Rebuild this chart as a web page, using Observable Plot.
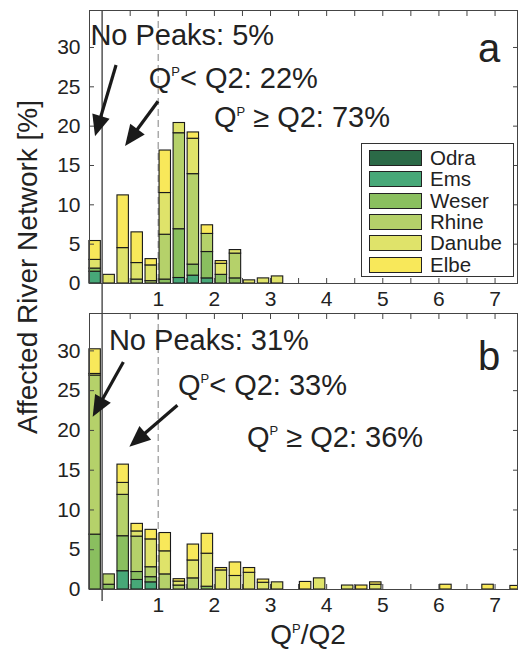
<!DOCTYPE html>
<html>
<head>
<meta charset="utf-8">
<script src="https://cdn.jsdelivr.net/npm/d3@7"></script>
<script src="https://cdn.jsdelivr.net/npm/@observablehq/plot@0.6"></script>
<style>
  body { margin: 0; background: #fff; }
  #chart { position: relative; width: 518px; height: 654px; overflow: hidden;
           font-family: "Liberation Sans", Arial, Helvetica, sans-serif; color: #222; }
  #chart svg { position: absolute; left: 0; overflow: visible; }
  .ylab { position: absolute; white-space: nowrap; font-size: 28px; line-height: 1;
          transform: translate(-50%, -50%) rotate(-90deg); }
  .legend { position: absolute; background: #fff; border: 1px solid #333; box-sizing: border-box; }
  .legend .sw { position: absolute; box-sizing: border-box; border: 1px solid #222; }
  .legend .lb { position: absolute; font-size: 20.5px; line-height: 20px; height: 20px; white-space: nowrap; }
</style>
</head>
<body>
<div id="chart"></div>
<script>
// ---------- data ----------
const rivers = ["Odra", "Ems", "Weser", "Rhine", "Danube", "Elbe"];
const colors = ["#2b6a47", "#47a878", "#8abf5f", "#b5d16a", "#dfe36a", "#f8e85a"];
const binWidth = 0.25;

// panel a (bin left edges, % of river network per river)
const binsA   = [-0.25, 0, 0.25, 0.5, 0.75, 1.0, 1.25, 1.5, 1.75, 2.0, 2.25, 2.5, 2.75, 3.0];
const odraA   = [0,   0,   0,   0,   0,   0,   0,    0,    0,    0,    0,    0,   0,    0];
const emsA    = [1.5, 0,   0,   0,   0,   0,   0.7,  1.0,  0.65, 0,    0,    0,   0,    0];
const weserA  = [0.4, 0,   0,   0,   0,   0.5, 6.2,  1.4,  3.35, 1.1,  0.65, 0,   0,    0];
const rhineA  = [0,   0,   0,   0.5, 0.3, 5.7, 12.2, 11.5, 2.3,  0,    3.15, 0,   0,    0];
const danubeA = [1.1, 1.1, 4.5, 2.1, 2.0, 5.3, 1.3,  4.5,  0,    1.4,  0.45, 0.4, 0.65, 0.9];
const elbeA   = [2.4, 0,   6.7, 3.9, 0.8, 5.4, 0,    0.8,  1.1,  0.35, 0,    0,   0,    0];

// panel b
const binsB   = [-0.25, 0, 0.25, 0.5, 0.75, 1.0, 1.25, 1.5, 1.75, 2.0, 2.25, 2.5, 2.75, 3.0, 3.5, 3.75, 4.25, 4.5, 4.75, 6.0, 6.75, 7.25];
const odraB   = [0,    0,   0,   0,    0,    0,   0,   0,    0,    0,   0,   0,   0,    0,   0,    0,   0,   0,   0,   0,   0,   0];
const emsB    = [0,    0,   2.3, 1.2,  0.9,  0,   0,   0,    0,    0,   0,   0,   0,    0,   0,    0,   0,   0,   0,   0,   0,   0];
const weserB  = [6.9,  0.6, 4.4, 1.0,  0.65, 0,   0,   0,    0.35, 0,   0,   0,   0,    0,   0,    0,   0,   0,   0,   0,   0,   0];
const rhineB  = [20.0, 1.3, 5.2, 4.45, 1.25, 1.9, 0.5, 1.4,  0,    0,   0,   0,   0,    0,   0,    0,   0,   0,   0,   0,   0,   0];
const danubeB = [0.2,  0,   1.5, 0.65, 3.5,  2.9, 0.5, 2.25, 4.15, 2.4, 1.7, 2.1, 0.85, 0.9, 0,    1.4, 0.5, 0,   0.6, 0,   0,   0];
const elbeB   = [3.1,  0,   2.3, 0.95, 1.2,  2.3, 0.3, 2.0,  2.5,  0.3, 1.7, 0.6, 0.4,  0,   0.95, 0,   0,   0.5, 0.3, 0.6, 0.6, 0.45];

// axes
const xDomain = [-0.225, 7.4];
const yDomain = [0, 34.7];
const xLabelTicks = [1, 2, 3, 4, 5, 6, 7];
const xMinorTicks = [0.5, 1, 1.5, 2, 2.5, 3, 3.5, 4, 4.5, 5, 5.5, 6, 6.5, 7];
const yTicks = [0, 5, 10, 15, 20, 25, 30];
const yLabel = "Affected River Network [%]";

// annotations (data units)
const notesA = [
  {text: "No Peaks: 5%", x: -0.2, y: 30.3},
  {text: "Q^P< Q2: 22%", x: 0.84, y: 24.8},
  {text: "Q^P \u2265 Q2: 73%", x: 2.0, y: 19.8}
];
const notesB = [
  {text: "No Peaks: 31%", x: 0.13, y: 30.0},
  {text: "Q^P< Q2: 33%", x: 1.36, y: 24.4},
  {text: "Q^P \u2265 Q2: 36%", x: 2.59, y: 17.9}
];
const tagA = {text: "a", x: 7.1, y: 28.1};
const tagB = {text: "b", x: 7.1, y: 27.5};
const arrowsA = [
  {x1: 0.257, y1: 27.7, x2: -0.118, y2: 18.65},
  {x1: 1.005, y1: 23.1, x2: 0.417, y2: 17.4}
];
const arrowsB = [
  {x1: 0.387, y1: 28.55, x2: -0.159, y2: 21.65},
  {x1: 1.35, y1: 23.1, x2: 0.494, y2: 17.9}
];

// ---------- helpers ----------
function stackRows(bins, series) {
  const rows = [];
  bins.forEach((b, i) => rivers.forEach((r, j) => {
    const v = series[j][i];
    if (v > 0) rows.push({x1: b, x2: b + binWidth, river: r, value: v});
  }));
  return rows;
}

function writeText(g, x, y, text, size, anchor = "start") {
  const t = g.append("text").attr("x", x).attr("y", y).attr("font-size", size)
    .attr("fill", "#222").attr("text-anchor", anchor);
  const parts = text.split("^P");
  if (parts.length === 1) { t.text(text); return t; }
  const sup = Math.round(size * 0.46);
  const shift = (size - sup) * 0.72;
  t.append("tspan").text(parts[0]);
  t.append("tspan").attr("font-size", sup).attr("dy", -shift).text("P");
  t.append("tspan").attr("dy", shift).text(parts[1]);
  return t;
}

function notesMark(notes, tag) {
  return (index, scales) => {
    const g = d3.create("svg:g");
    for (const n of notes) writeText(g, scales.x(n.x), scales.y(n.y), n.text, 29);
    writeText(g, scales.x(tag.x), scales.y(tag.y), tag.text, 40, "end");
    return g.node();
  };
}

function arrowsMark(arrows) {
  return (index, scales) => {
    const g = d3.create("svg:g");
    const L = 21, W = 9;
    for (const a of arrows) {
      const x1 = scales.x(a.x1), y1 = scales.y(a.y1), x2 = scales.x(a.x2), y2 = scales.y(a.y2);
      const len = Math.hypot(x2 - x1, y2 - y1), ux = (x2 - x1) / len, uy = (y2 - y1) / len;
      const bx = x2 - ux * L, by = y2 - uy * L;
      g.append("line").attr("x1", x1).attr("y1", y1).attr("x2", bx + ux * 2).attr("y2", by + uy * 2)
        .attr("stroke", "#1a1a1a").attr("stroke-width", 3.2);
      g.append("path").attr("fill", "#1a1a1a")
        .attr("d", `M${x2},${y2}L${bx - uy * W},${by + ux * W}L${bx + uy * W},${by - ux * W}Z`);
    }
    return g.node();
  };
}

function xTitleMark(text) {
  return (index, scales, values, dims) => {
    const g = d3.create("svg:g");
    const cx = (dims.marginLeft + dims.width - dims.marginRight) / 2 + 5;
    writeText(g, cx, dims.height - 10, text, 28, "middle");
    return g.node();
  };
}

function panel({rows, notes, tag, arrows, height, marginTop, marginBottom, extTop, extBottom, extra = []}) {
  return Plot.plot({
    width: 518, height, marginLeft: 89, marginRight: 1, marginTop, marginBottom,
    x: {domain: xDomain, axis: null},
    y: {domain: yDomain, axis: null},
    color: {domain: rivers, range: colors},
    style: {fontFamily: '"Liberation Sans", Arial, sans-serif', color: "#222", background: "transparent", overflow: "visible"},
    marks: [
      Plot.ruleX([1], {stroke: "#aaa", strokeWidth: 1.5, strokeDasharray: "7,4"}),
      Plot.rectY(rows, Plot.stackY({
        x1: "x1", x2: "x2", y: "value", z: "river", fill: "river", order: rivers,
        stroke: "#1a1a1a", strokeWidth: 1.1, insetLeft: 1.3, insetRight: 1.3
      })),
      Plot.ruleX([0], {stroke: "#555", strokeWidth: 1.5, insetTop: -extTop, insetBottom: -extBottom}),
      Plot.frame({stroke: "#444", strokeWidth: 1}),
      // inward ticks on all four sides
      Plot.axisX({anchor: "bottom", ticks: xMinorTicks, tickSize: 5, dy: -5, tickFormat: () => "", label: null, stroke: "#444"}),
      Plot.axisX({anchor: "top", ticks: xMinorTicks, tickSize: 5, dy: 5, tickFormat: () => "", label: null, stroke: "#444"}),
      Plot.axisY({anchor: "left", ticks: yTicks, tickSize: 5, dx: 5, tickFormat: () => "", label: null, stroke: "#444"}),
      Plot.axisY({anchor: "right", ticks: yTicks, tickSize: 5, dx: -5, tickFormat: () => "", label: null, stroke: "#444"}),
      // labels
      Plot.axisX({anchor: "bottom", ticks: xLabelTicks, tickSize: 0, tickPadding: 8, fontSize: 21, fill: "#222", label: null}),
      Plot.axisY({anchor: "left", ticks: yTicks, tickSize: 0, tickPadding: 9, fontSize: 21, fill: "#222", label: null}),
      arrowsMark(arrows),
      notesMark(notes, tag),
      ...extra
    ]
  });
}

// ---------- build ----------
const chart = document.getElementById("chart");
const svgA = panel({
  rows: stackRows(binsA, [odraA, emsA, weserA, rhineA, danubeA, elbeA]),
  notes: notesA, tag: tagA, arrows: arrowsA,
  height: 305, marginTop: 10, marginBottom: 22, extTop: 0, extBottom: 22
});
svgA.style.top = "0px";
chart.appendChild(svgA);

const svgB = panel({
  rows: stackRows(binsB, [odraB, emsB, weserB, rhineB, danubeB, elbeB]),
  notes: notesB, tag: tagB, arrows: arrowsB,
  height: 349, marginTop: 8, marginBottom: 65, extTop: 8, extBottom: 12,
  extra: [xTitleMark("Q^P/Q2")]
});
svgB.style.top = "305px";
chart.appendChild(svgB);

// y label
const yl = document.createElement("div");
yl.className = "ylab";
yl.style.left = "28px";
yl.style.top = "267px";
yl.textContent = yLabel;
chart.appendChild(yl);

// legend (inside panel a)
const lg = document.createElement("div");
lg.className = "legend";
Object.assign(lg.style, {left: "361px", top: "143px", width: "153px", height: "134px"});
rivers.forEach((r, i) => {
  const sw = document.createElement("div");
  sw.className = "sw";
  Object.assign(sw.style, {left: "7px", top: (6 + i * 21.3) + "px", width: "53px", height: "16px", background: colors[i]});
  lg.appendChild(sw);
  const lb = document.createElement("div");
  lb.className = "lb";
  Object.assign(lb.style, {left: "68px", top: (4 + i * 21.3) + "px"});
  lb.textContent = r;
  lg.appendChild(lb);
});
chart.appendChild(lg);
</script>
</body>
</html>
